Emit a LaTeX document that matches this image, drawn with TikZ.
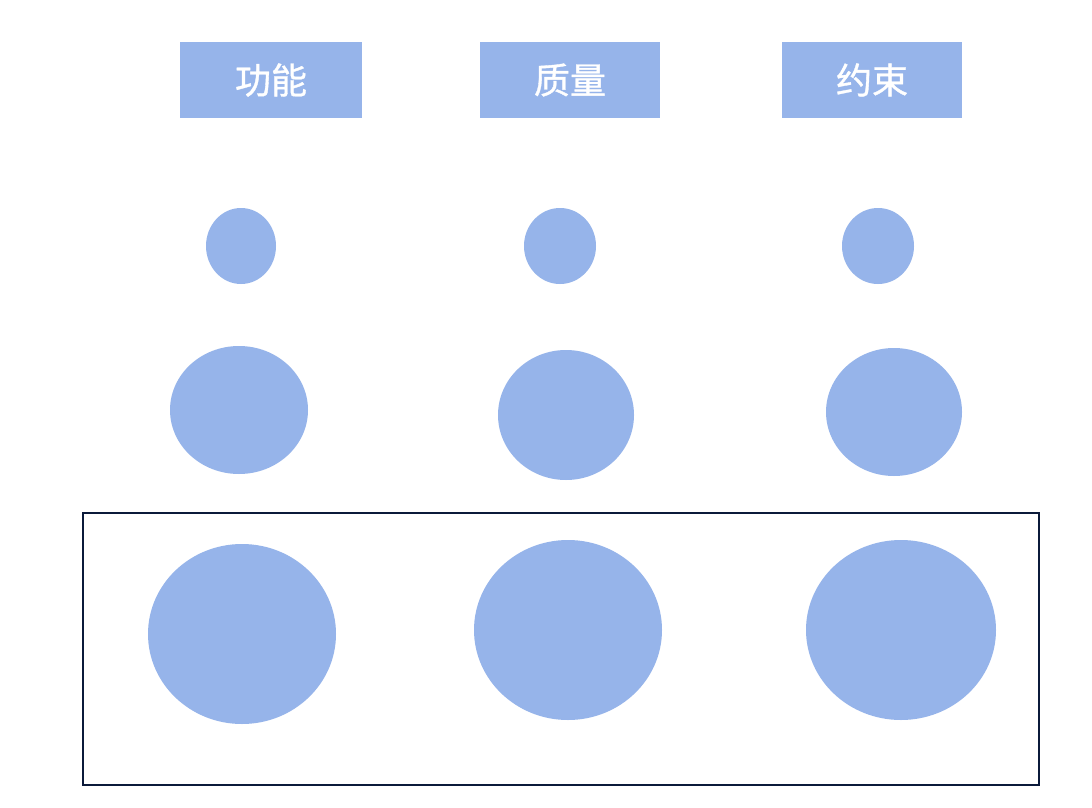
\documentclass[tikz,border=0pt]{standalone}
\usepackage{fontspec}
\newfontfamily\cjk[FakeBold=1.0]{Noto Sans CJK SC}
\definecolor{fillblue}{HTML}{96B4EA}
\definecolor{darkline}{HTML}{0B1A3A}
\begin{document}
\begin{tikzpicture}[x=1pt,y=-1pt,
  hdr/.style={fill=fillblue,draw=none,minimum height=76pt,inner sep=0pt,text=white,font=\cjk\fontsize{36}{40}\selectfont},
  blob/.style={fill=fillblue,draw=none}]
\useasboundingbox (0,0) rectangle (1092,808);
\fill[white] (0,0) rectangle (1092,808);
\node[hdr,minimum width=182pt] (h1) at (271,80) {功能};
\node[hdr,minimum width=180pt] (h2) at (570,80) {质量};
\node[hdr,minimum width=180pt] (h3) at (872,80) {约束};
\fill[blob] (241,246) ellipse [x radius=35, y radius=38];
\fill[blob] (560,246) ellipse [x radius=36, y radius=38];
\fill[blob] (878,246) ellipse [x radius=36, y radius=38];
\fill[blob] (239,410) ellipse [x radius=69, y radius=64];
\fill[blob] (566,415) ellipse [x radius=68, y radius=65];
\fill[blob] (894,412) ellipse [x radius=68, y radius=64];
\fill[blob] (242,634) ellipse [x radius=94, y radius=90];
\fill[blob] (568,630) ellipse [x radius=94, y radius=90];
\fill[blob] (901,630) ellipse [x radius=95, y radius=90];
\draw[darkline,line width=2pt] (83,513) rectangle (1039,785);
\end{tikzpicture}
\end{document}
